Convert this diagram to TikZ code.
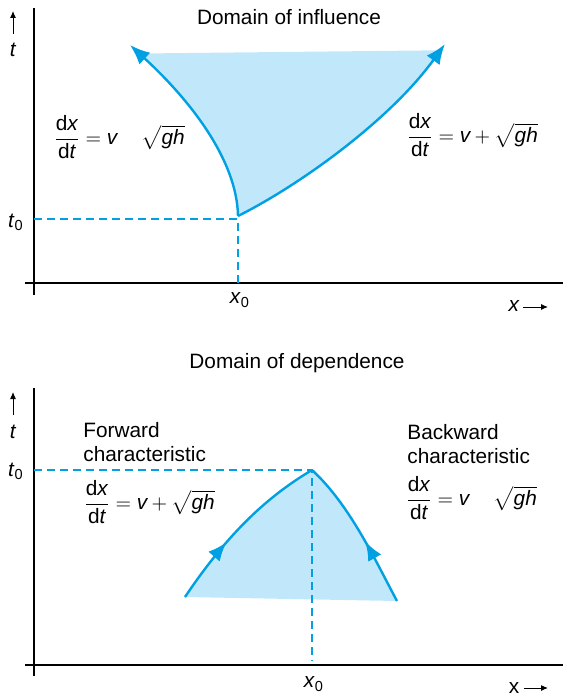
\documentclass[tikz,border=0pt]{standalone}
\usepackage{amsmath}
\usepackage{fontspec}
\setmainfont{Liberation Sans}
\usepackage{tikz}
\usetikzlibrary{positioning,arrows.meta,decorations.markings}
\definecolor{charcyan}{RGB}{0,160,227}
\definecolor{charfill}{RGB}{192,232,250}
\newcommand{\vv}[1]{\textit{#1}}
\newcommand{\dxdt}{\dfrac{\text{d}\vv{x}}{\text{d}\vv{t}}}

\begin{document}
\begin{tikzpicture}[x=0.5pt, y=-0.5pt,
  every node/.style={font=\fontsize{10.4}{11.8}\selectfont, inner sep=0pt},
  axisline/.style={line width=0.6pt, black},
  smalltip/.style={line width=0.5pt, -{Latex[length=3.5pt,width=3pt]}},
  charline/.style={draw=charcyan, line width=1.2pt},
  tipend/.style={-{Latex[length=10pt,width=8pt]}},
  midtip/.style={postaction={decorate}, decoration={markings,
                 mark=at position #1 with {\arrow{Latex[length=9.5pt,width=7.5pt]}}}},
  dashline/.style={draw=charcyan, line width=0.8pt, dash pattern=on 4pt off 2.5pt},
  shade/.style={fill=charfill},
  labeltext/.style={align=left, anchor=west}
]
  \useasboundingbox (0,0) rectangle (563,695);

  % ---- domain of influence
  \node (infltitle) at (289,17) {Domain of influence};
  \coordinate (infl-apex)  at (238,216);
  \coordinate (infl-left)  at (130,45);
  \coordinate (infl-right) at (445,44);
  \coordinate (infl-taxis) at (34,219);
  \coordinate (infl-xaxis) at (238,283);

  \begin{scope}
    \clip (0,55) -- (563,49) -- (563,300) -- (0,300) -- cycle;
    \fill[shade] (infl-apex) .. controls (237,160) and (190,100) .. (infl-left)
      -- (infl-right) .. controls (390,120) and (300,185) .. (infl-apex) -- cycle;
  \end{scope}

  \draw[axisline] (34,8) -- (34,295);
  \draw[axisline] (25,283) -- (563,283);
  \draw[dashline] (infl-taxis) -- (238,219) -- (infl-xaxis);
  \draw[charline, tipend] (infl-apex) .. controls (237,160) and (190,100) .. (infl-left);
  \draw[charline, tipend] (infl-apex) .. controls (300,185) and (390,120) .. (infl-right);

  \node (infl-t) at (13,50) {\vv{t}};
  \draw[smalltip] (13,34) -- (13,11);
  \node (infl-t0) at (16,222) {\vv{t}$_{\text{0}}$};
  \node (infl-x0) at (240,300) {\vv{x}$_{\text{0}}$};
  \node (infl-x) at (514,306) {\vv{x}};
  \draw[smalltip] (523,307) -- (548,307);
  \node[labeltext] (infl-back) at (53,137) {$\dxdt = \vv{v} \mathbin{\phantom{+}} \sqrt{\vv{gh}}$};
  \node[labeltext] (infl-fwd) at (406,135) {$\dxdt = \vv{v} + \sqrt{\vv{gh}}$};

  % ---- domain of dependence
  \node (deptitle) at (297,363) {Domain of dependence};
  \coordinate (dep-apex)  at (312,470);
  \coordinate (dep-left)  at (185,597);
  \coordinate (dep-right) at (397,601);
  \coordinate (dep-taxis) at (34,470);
  \coordinate (dep-xaxis) at (312,661);

  \fill[shade] (dep-left) .. controls (230,530) and (270,495) .. (dep-apex)
    .. controls (350,505) and (375,560) .. (dep-right) -- cycle;

  \draw[axisline] (34,388) -- (34,676);
  \draw[axisline] (25,665) -- (563,665);
  \draw[dashline] (dep-taxis) -- (dep-apex) -- (dep-xaxis);
  \draw[charline, midtip=0.38] (dep-left) .. controls (230,530) and (270,495) .. (dep-apex);
  \draw[charline, midtip=0.43] (dep-right) .. controls (375,560) and (350,505) .. (dep-apex);

  \node (dep-t) at (13,432) {\vv{t}};
  \draw[smalltip] (13,415) -- (13,392);
  \node (dep-t0) at (16,471) {\vv{t}$_{\text{0}}$};
  \node (dep-x0) at (314,684) {\vv{x}$_{\text{0}}$};
  \node (dep-x) at (514,688) {x};
  \draw[smalltip] (524,688) -- (548,688);
  \node[labeltext] (fwdtext) at (83,442) {Forward\\characteristic};
  \node[labeltext] (fwdeq) at (83,502) {$\dxdt = \vv{v} + \sqrt{\vv{gh}}$};
  \node[labeltext] (backtext) at (407,444) {Backward\\characteristic};
  \node[labeltext] (backeq) at (405,498) {$\dxdt = \vv{v} \mathbin{\phantom{+}} \sqrt{\vv{gh}}$};
\end{tikzpicture}
\end{document}
